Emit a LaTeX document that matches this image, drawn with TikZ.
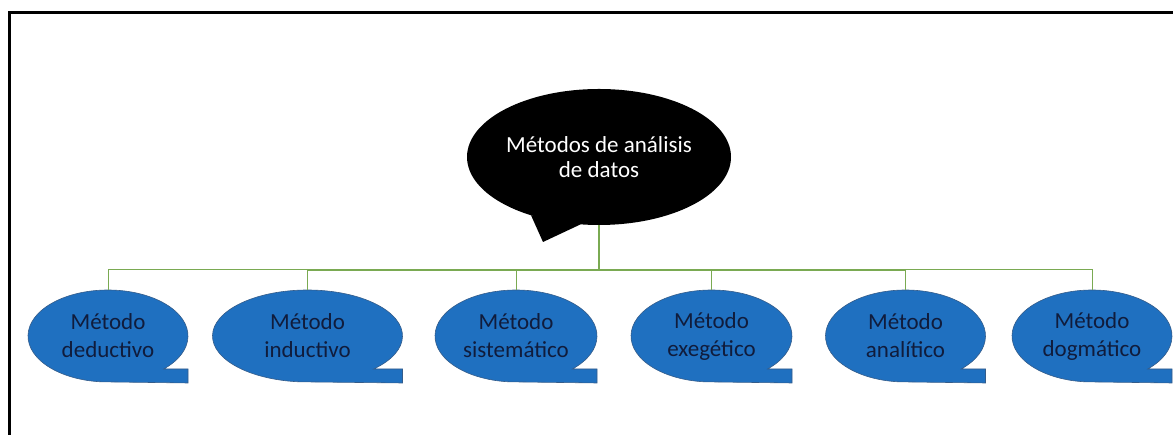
\documentclass[tikz,border=0pt]{standalone}
\usepackage{fontspec}
\setmainfont{Carlito}
\usetikzlibrary{shapes.geometric,backgrounds}

\definecolor{azul}{RGB}{31,112,192}
\definecolor{bordeazul}{RGB}{52,92,138}
\definecolor{tinta}{RGB}{16,28,60}
\definecolor{verde}{RGB}{122,170,82}

\tikzset{
  nube/.style={ellipse,fill=black,text=white,minimum width=264pt,minimum height=136pt,
    inner sep=0pt,align=center,font=\fontsize{23}{25}\selectfont},
  globo/.style={ellipse,minimum height=92pt,inner sep=0pt,align=center,text=tinta,
    font=\fontsize{23}{28}\selectfont},
  rama/.style={verde,line width=1pt},
  rama gruesa/.style={verde,line width=2pt},
  marco/.style={line width=3pt}
}

% blue bubble with its tail, #1 = node, #2 = x radius
\newcommand{\cola}[2]{%
  \begin{pgfonlayer}{background}
  \filldraw[fill=azul,draw=bordeazul,line width=0.6pt]
    ([shift={(-45.8:#2pt and 46pt)}]#1.center)
    arc[start angle=-45.8,end angle=265,x radius=#2pt,y radius=46pt]
    -- ([shift={(#2pt,-47pt)}]#1.center)
    -- ([shift={(#2pt,-33pt)}]#1.center) -- cycle;
  \end{pgfonlayer}}

\begin{document}
\begin{tikzpicture}[x=1pt,y=1pt]
  \useasboundingbox (0,0) rectangle (1173,435);
  % frame
  \draw[marco] (9,0) |- (1173,422);

  % main bubble
  \node[nube] (titulo) at (599,278) {Métodos de análisis\\de datos};
  \begin{pgfonlayer}{background}
  \fill (titulo.center) ++(239:132 and 68) -- ([shift={(-56pt,-85pt)}]titulo.center)
    -- ([shift={(262:132pt and 68pt)}]titulo.center) -- cycle;
  \end{pgfonlayer}

  % the six methods
  \node[globo,minimum width=160pt] (deductivo) at (108,99) {Método\\deductivo};
  \node[globo,minimum width=190pt] (inductivo) at (307.5,99) {Método\\inductivo};
  \node[globo,minimum width=162pt] (sistematico) at (516,99) {Método\\sistemático};
  \node[globo,minimum width=161pt] (exegetico) at (711.5,99) {Método\\exegético};
  \node[globo,minimum width=160pt] (analitico) at (905.5,99) {Método\\analítico};
  \node[globo,minimum width=160pt] (dogmatico) at (1092,99) {Método\\dogmático};
  \cola{deductivo}{80}
  \cola{inductivo}{95}
  \cola{sistematico}{81}
  \cola{exegetico}{80.5}
  \cola{analitico}{80}
  \cola{dogmatico}{80}

  % connectors
  \coordinate (union) at (599,165);
  \draw[rama gruesa] (titulo.south) -- (union);
  \draw[rama gruesa] (inductivo.north |- union) -- (analitico.north |- union);
  \draw[rama] (deductivo.north) |- (inductivo.north |- union);
  \draw[rama] (dogmatico.north) |- (analitico.north |- union);
  \draw[rama] (inductivo.north) -- (inductivo.north |- union);
  \draw[rama] (sistematico.north) -- (sistematico.north |- union);
  \draw[rama] (exegetico.north) -- (exegetico.north |- union);
  \draw[rama] (analitico.north) -- (analitico.north |- union);
\end{tikzpicture}
\end{document}
